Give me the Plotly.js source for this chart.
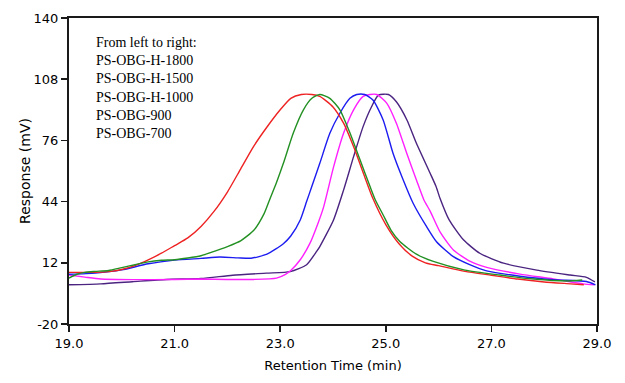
<!DOCTYPE html>
<html>
<head>
<meta charset="utf-8">
<script src="https://cdn.plot.ly/plotly-3.0.1.min.js"></script>
<style>html,body{margin:0;padding:0;background:#fff;}#chart{width:625px;height:383px;}</style>
</head>
<body>
<div id="chart"></div>
<script>
// Series names
const seriesNames = ["PS-OBG-H-1800", "PS-OBG-H-1500", "PS-OBG-H-1000", "PS-OBG-900", "PS-OBG-700"];

// PS-OBG-H-1800 (red)
const tH1800 = [19.0, 19.25, 19.5, 19.75, 20.0, 20.25, 20.5, 20.75, 21.0, 21.25, 21.5, 21.75, 22.0, 22.25, 22.5, 22.75, 23.0, 23.2, 23.4, 23.6, 23.75, 24.0, 24.2, 24.4, 24.6, 24.75, 25.0, 25.25, 25.5, 25.75, 26.0, 26.5, 27.0, 27.5, 28.0, 28.5, 28.75];
const vH1800 = [7, 7, 7, 7.4, 8.5, 10.5, 13.5, 17, 21, 25, 31, 39, 49, 61, 73, 83, 92, 98, 100, 100, 99, 93.5, 85, 72, 57, 46, 32, 22, 15.5, 12, 10.5, 7.5, 5.5, 3.5, 2, 1, 0.5];

// PS-OBG-H-1500 (green)
const tH1500 = [19.0, 19.15, 19.3, 19.5, 19.75, 20.0, 20.25, 20.5, 20.75, 21.0, 21.25, 21.5, 21.75, 22.0, 22.25, 22.5, 22.7, 22.8, 22.93, 23.06, 23.25, 23.44, 23.6, 23.75, 23.94, 24.13, 24.32, 24.51, 24.7, 24.8, 24.95, 25.1, 25.27, 25.58, 25.9, 26.5, 27.16, 27.8, 28.43, 28.72];
const vH1500 = [4, 6, 7, 7.5, 8, 9.5, 11, 12.5, 13.3, 13.6, 14.5, 15.7, 18, 20.5, 23.5, 29, 38, 45, 54, 64, 80, 92, 98, 100, 98, 92, 80, 66, 52, 45, 37, 29, 23, 16.5, 12.7, 8.2, 5.6, 3.5, 2.5, 3];

// PS-OBG-H-1000 (blue)
const tH1000 = [19.0, 19.5, 20.0, 20.5, 21.0, 21.5, 21.86, 22.2, 22.45, 22.75, 23.06, 23.2, 23.38, 23.5, 23.6, 23.75, 23.94, 24.13, 24.32, 24.45, 24.6, 24.76, 24.95, 25.14, 25.33, 25.52, 25.77, 25.96, 26.28, 26.6, 26.91, 27.54, 28.17, 28.8, 28.97];
const vH1000 = [6, 6.6, 8.3, 11.5, 13.4, 14.3, 15, 14.6, 14.4, 16.5, 22, 26, 34.4, 44, 52, 64, 79.7, 90.2, 98, 100, 100, 97, 86.7, 69, 55.3, 43, 31, 23, 15.2, 10.9, 7.8, 5, 3.2, 2.2, 0.5];

// PS-OBG-900 (magenta)
const t900 = [19.0, 19.3, 19.6, 20.2, 21.0, 21.5, 22.0, 22.5, 22.93, 23.1, 23.2, 23.38, 23.56, 23.72, 23.82, 24.01, 24.2, 24.39, 24.57, 24.7, 24.83, 25.02, 25.2, 25.4, 25.58, 25.72, 25.84, 26.03, 26.28, 26.6, 26.91, 27.54, 28.17, 28.74, 28.95];
const v900 = [5.6, 4.5, 3.5, 3.2, 3.3, 3.5, 3.3, 3.3, 4, 6, 8, 13.6, 22, 33, 41, 62, 79.7, 92, 99, 100, 100, 95.4, 85, 69, 55.3, 45, 39, 28, 18.7, 12.7, 9.6, 6.1, 3.6, 1, 0.5];

// PS-OBG-700 (purple)
const t700 = [19.0, 19.6, 20.2, 20.85, 21.5, 22.1, 22.74, 23.19, 23.5, 23.69, 23.75, 24.01, 24.2, 24.39, 24.57, 24.73, 24.86, 25.05, 25.2, 25.4, 25.58, 25.84, 25.95, 26.03, 26.2, 26.47, 26.78, 27.23, 27.86, 28.49, 28.8, 28.96];
const v700 = [0.5, 1, 2.1, 3.3, 3.8, 5.5, 6.6, 7.4, 11, 18, 20.5, 34.4, 50, 67.5, 83.2, 93.6, 99.7, 100, 96.2, 86.7, 74.5, 58.8, 52, 45.5, 34.4, 24, 17, 11.8, 8.2, 5.6, 4.4, 2];

// Axis ticks
const xTickVals = [19, 21, 23, 25, 27, 29];
const xTickText = ["19.0", "21.0", "23.0", "25.0", "27.0", "29.0"];
const yTickVals = [-20, 12, 44, 76, 108, 140];
const yTickText = ["-20", "12", "44", "76", "108", "140"];

const legendLines = ["From left to right:", "PS-OBG-H-1800", "PS-OBG-H-1500", "PS-OBG-H-1000", "PS-OBG-900", "PS-OBG-700"];

const colors = ["#ee2222", "#229022", "#1c1cf0", "#ff1fff", "#4a2480"];
const xs = [tH1800, tH1500, tH1000, t900, t700];
const ys = [vH1800, vH1500, vH1000, v900, v700];

const order = [4, 3, 2, 0, 1];
const traces = order.map(i => ({
  x: xs[i], y: ys[i], name: seriesNames[i], type: 'scatter', mode: 'lines',
  line: {color: colors[i], width: 1.4, shape: 'spline', smoothing: 0.6}
}));

const axisFont = {family: 'DejaVu Sans, Verdana, sans-serif', size: 13, color: '#000'};

const layout = {
  width: 625, height: 383,
  margin: {l: 69, r: 28, t: 18, b: 59},
  paper_bgcolor: '#fff', plot_bgcolor: '#fff',
  showlegend: false,
  xaxis: {
    range: [19, 29], tickvals: xTickVals, ticktext: xTickText,
    showgrid: false, zeroline: false, showline: true, mirror: true,
    linecolor: '#1a1a1a', linewidth: 2, ticks: 'outside', ticklen: 6, tickwidth: 1.5, tickcolor: '#1a1a1a',
    tickfont: axisFont,
    title: {text: 'Retention Time (min)', font: axisFont, standoff: 11}
  },
  yaxis: {
    range: [-20, 140], tickvals: yTickVals, ticktext: yTickText,
    showgrid: false, zeroline: false, showline: true, mirror: true,
    linecolor: '#1a1a1a', linewidth: 2, ticks: 'outside', ticklen: 6, tickwidth: 1.5, tickcolor: '#1a1a1a',
    tickfont: axisFont,
    title: {text: 'Response (mV)', font: {family: 'DejaVu Sans, Verdana, sans-serif', size: 14, color: '#000'}, standoff: 0}
  },
  annotations: [{
    xref: 'paper', yref: 'paper', x: 0.047, y: 0.952, xanchor: 'left', yanchor: 'top',
    align: 'left', showarrow: false,
    text: legendLines.join('<br>'),
    font: {family: 'Liberation Serif, Times New Roman, serif', size: 14, color: '#000'}
  }]
};

Plotly.newPlot('chart', traces, layout, {displayModeBar: false, staticPlot: true});
</script>
</body>
</html>
